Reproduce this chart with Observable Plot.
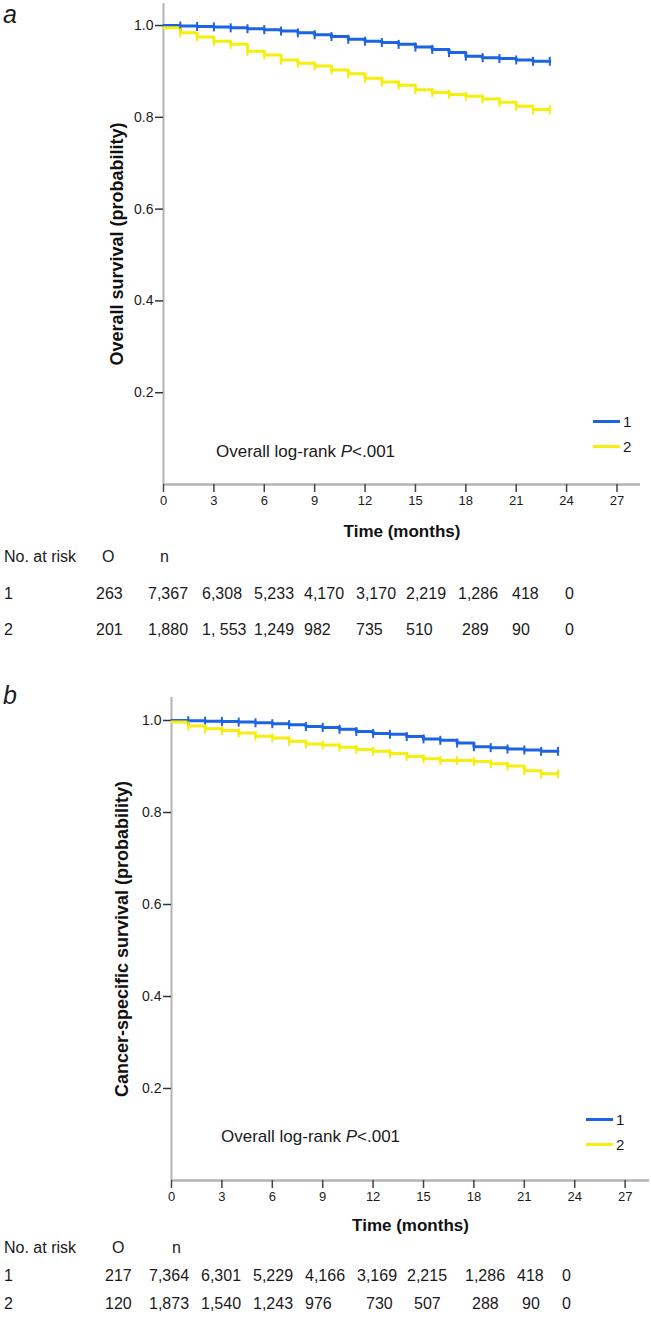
<!DOCTYPE html>
<html>
<head>
<meta charset="utf-8">
<script src="https://cdn.jsdelivr.net/npm/d3@7"></script>
<script src="https://cdn.jsdelivr.net/npm/@observablehq/plot@0.6"></script>
<style>
  html, body { margin: 0; padding: 0; background: #fff; }
  #page { position: relative; width: 651px; height: 1317px; overflow: hidden; font-family: "Liberation Sans", Arial, sans-serif; color: #1a1a1a; }
  .abs { position: absolute; white-space: nowrap; line-height: 1; }
  .panel-letter { font-style: italic; font-size: 25px; line-height: normal; }
  .mid { transform: translateY(-50%); }
  .legline { position: absolute; height: 3px; }
</style>
</head>
<body>
<div id="page"></div>
<script>
// ---------- DATA ----------
const months = [0,1,2,3,4,5,6,7,8,9,10,11,12,13,14,15,16,17,18,19,20,21,22,23];
const groups = ["1", "2"];
// (a) Overall survival, level of each curve from month t onward
const osGroup1 = [1.000,0.999,0.998,0.997,0.995,0.993,0.991,0.988,0.984,0.980,0.976,0.970,0.966,0.963,0.959,0.953,0.948,0.941,0.933,0.930,0.928,0.925,0.922,0.922];
const osGroup2 = [0.995,0.984,0.975,0.966,0.959,0.944,0.936,0.925,0.918,0.912,0.903,0.895,0.885,0.877,0.870,0.860,0.854,0.850,0.846,0.840,0.833,0.824,0.817,0.817];
// (b) Cancer-specific survival
const cssGroup1 = [1.000,0.9995,0.9986,0.998,0.9965,0.995,0.993,0.991,0.987,0.985,0.981,0.976,0.972,0.970,0.965,0.960,0.957,0.951,0.943,0.941,0.938,0.936,0.933,0.933];
const cssGroup2 = [0.997,0.988,0.982,0.978,0.973,0.966,0.962,0.955,0.949,0.947,0.942,0.937,0.933,0.928,0.922,0.917,0.913,0.913,0.911,0.906,0.901,0.891,0.884,0.884];
const xTicks = [0,3,6,9,12,15,18,21,24,27];
const yTicks = [0.2,0.4,0.6,0.8,1.0];
const riskHeader = ["No. at risk", "O", "n"];
const riskA1 = ["263","7,367","6,308","5,233","4,170","3,170","2,219","1,286","418","0"];
const riskA2 = ["201","1,880","1, 553","1,249","982","735","510","289","90","0"];
const riskB1 = ["217","7,364","6,301","5,229","4,166","3,169","2,215","1,286","418","0"];
const riskB2 = ["120","1,873","1,540","1,243","976","730","507","288","90","0"];
const pText = "Overall log-rank ";

// ---------- LAYOUT ----------
const BLUE = "#1d63e6", YELLOW = "#f6ee0c", AXIS = "#b3b3b3";
const FONT = "Liberation Sans, Arial, sans-serif";
const page = document.getElementById("page");

function tidy(vals1, vals2) {
  const rows = [];
  months.forEach((t, i) => rows.push({t, s: vals1[i], g: groups[0]}));
  months.forEach((t, i) => rows.push({t, s: vals2[i], g: groups[1]}));
  return rows;
}
const tickSymbol = { draw(ctx, size) { const h = Math.sqrt(size / Math.PI); ctx.moveTo(0, -h); ctx.lineTo(0, h); } };

function panel(cfg) {
  const rows = tidy(cfg.v1, cfg.v2);
  const censor = rows.filter(d => d.t > 0);
  const chart = Plot.plot({
    width: 651, height: cfg.height,
    marginTop: cfg.mt, marginBottom: 56, marginLeft: cfg.ml, marginRight: cfg.mr,
    style: { fontFamily: FONT, background: "transparent", overflow: "visible", color: "#1a1a1a" },
    x: { domain: [0, cfg.xmax] },
    y: { domain: [0, cfg.ymax] },
    color: { domain: groups, range: [BLUE, YELLOW] },
    marks: [
      Plot.ruleX([0], { stroke: AXIS, strokeWidth: 2 }),
      Plot.ruleY([0], { stroke: AXIS, strokeWidth: 2.5 }),
      Plot.axisX({ ticks: xTicks, tickSize: 8, tickPadding: 3, fontSize: 13, stroke: "#444", strokeWidth: 1.5, label: null }),
      Plot.axisY({ ticks: yTicks, tickFormat: d3.format(".1f"), tickSize: 8, tickPadding: 2, fontSize: 14, stroke: "#333", strokeWidth: 1.5, label: null }),
      Plot.line(rows, { x: "t", y: "s", z: "g", stroke: "g", curve: "step-after", strokeWidth: 3 }),
      Plot.dot(censor, { x: "t", y: "s", stroke: "g", symbol: tickSymbol, r: 4.5, strokeWidth: 2, fill: "none" }),
      Plot.text([cfg.ylabel], { frameAnchor: "left", textAnchor: "middle", lineAnchor: "middle", rotate: -90, dx: cfg.ylabDx, fontSize: 18, fontWeight: "bold", fill: "#111" }),
      Plot.text(["Time (months)"], { frameAnchor: "bottom", lineAnchor: "middle", dy: cfg.xlabDy, fontSize: 17, fontWeight: "bold", fill: "#111" })
    ]
  });
  const wrap = document.createElement("div");
  wrap.className = "abs";
  wrap.style.left = "0px"; wrap.style.top = cfg.top + "px";
  wrap.appendChild(chart);
  page.appendChild(wrap);

  // panel letter
  addText(cfg.letter, 3, cfg.letterTop, "panel-letter");
  // p-value annotation
  const p = addText("", cfg.pX, cfg.pY, "mid");
  p.style.fontSize = "17px";
  p.innerHTML = pText + "<i>P</i>&lt;.001";
  // legend
  groups.forEach((g, i) => {
    const ln = document.createElement("div");
    ln.className = "legline";
    ln.style.left = cfg.legX + "px"; ln.style.width = "27px";
    ln.style.top = (cfg.legY + i * 25 - 1.5) + "px";
    ln.style.background = i === 0 ? BLUE : YELLOW;
    page.appendChild(ln);
    const t = addText(g, cfg.legX + 30, cfg.legY + i * 25, "mid");
    t.style.fontSize = "15px";
  });
  // risk table
  addText(riskHeader[0], 4, cfg.tabY[0], "mid").style.fontSize = "16px";
  addText(riskHeader[1], cfg.oX, cfg.tabY[0], "mid").style.fontSize = "16px";
  addText(riskHeader[2], cfg.nX, cfg.tabY[0], "mid").style.fontSize = "16px";
  [cfg.r1, cfg.r2].forEach((row, ri) => {
    addText(groups[ri], 4, cfg.tabY[ri + 1], "mid").style.fontSize = "16px";
    row.forEach((v, ci) => {
      addText(v, cfg.cols[ri][ci], cfg.tabY[ri + 1], "mid").style.fontSize = "16px";
    });
  });
}
function addText(txt, x, y, cls) {
  const d = document.createElement("div");
  d.className = "abs " + (cls || "");
  d.style.left = x + "px"; d.style.top = y + "px";
  d.textContent = txt;
  page.appendChild(d);
  return d;
}

panel({
  v1: osGroup1, v2: osGroup2, top: 0, height: 540, mt: 3, ml: 163, mr: 11, xmax: 28.4, ymax: 1.048,
  ylabel: "Overall survival (probability)", ylabDx: -46, xlabDy: 47, letter: "a", letterTop: 0,
  pX: 216, pY: 451, legX: 593, legY: 421,
  tabY: [557, 594, 630], oX: 102, nX: 160, r1: riskA1, r2: riskA2,
  cols: [[96,148,202,254,304,356,406,458,512,565],[96,148,202,254,304,356,406,462,512,565]]
});
panel({
  v1: cssGroup1, v2: cssGroup2, top: 690, height: 546, mt: 7, ml: 171, mr: 2, xmax: 28.45, ymax: 1.05,
  ylabel: "Cancer-specific survival (probability)", ylabDx: -49, xlabDy: 45, letter: "b", letterTop: 681,
  pX: 221, pY: 1136, legX: 586, legY: 1119,
  tabY: [1248, 1276, 1304], oX: 112, nX: 172, r1: riskB1, r2: riskB2,
  cols: [[105,149,201,253,305,357,407,465,517,562],[105,149,201,253,305,366,414,472,522,562]]
});
</script>
</body>
</html>
